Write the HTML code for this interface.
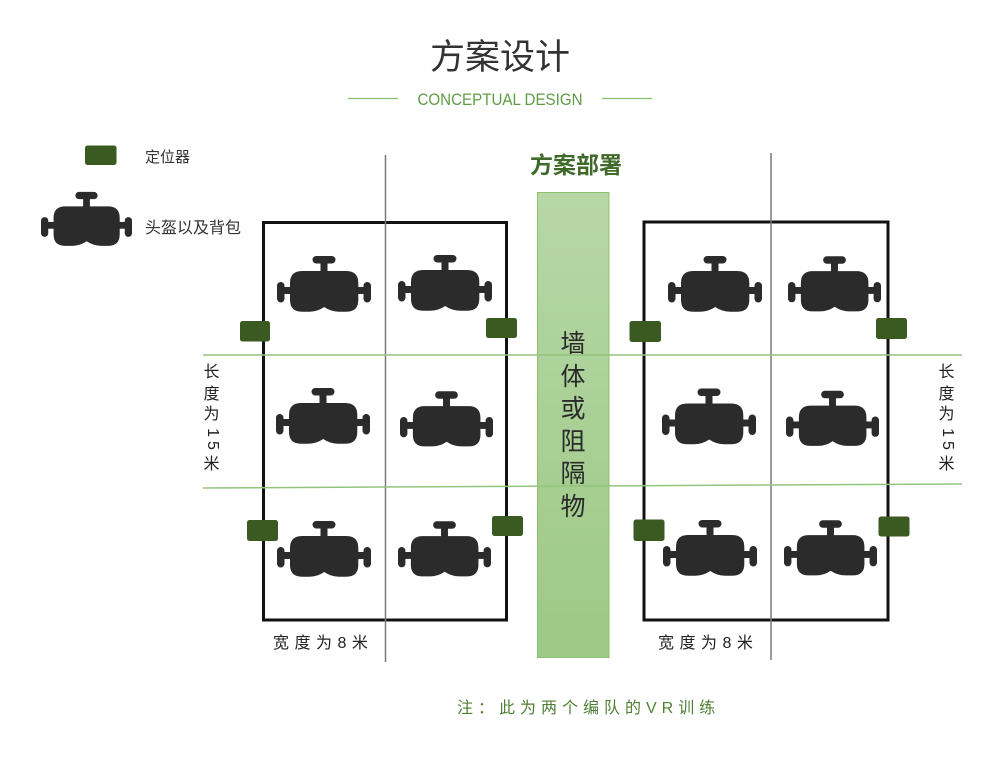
<!DOCTYPE html>
<html>
<head>
<meta charset="utf-8">
<style>
  html,body{margin:0;padding:0;background:#fff;}
  #root{position:relative;width:1000px;height:760px;overflow:hidden;background:#fff;}
  svg{position:absolute;left:0;top:0;}
  .t{position:absolute;font-family:"Liberation Sans","Noto Sans CJK SC",sans-serif;white-space:nowrap;}
  .vc{font-size:16px;line-height:16px;width:17px;text-align:center;color:#222;}
  .rot{font-size:16px;line-height:16px;width:26px;text-align:center;letter-spacing:4px;color:#222;transform:rotate(90deg);transform-origin:13px 8px;}
</style>
</head>
<body>
<div id="root">
<svg width="1000" height="760" viewBox="0 0 1000 760" xmlns="http://www.w3.org/2000/svg">
  <defs>
    <linearGradient id="wallg" x1="0" y1="0" x2="0" y2="1">
      <stop offset="0" stop-color="#b7d7a7"/>
      <stop offset="1" stop-color="#9cc985"/>
    </linearGradient>
    <symbol id="hs" viewBox="0 0 94 57">
      <g fill="#2b2b2b">
        <rect x="35.5" y="0" width="23" height="7.5" rx="3.75"/>
        <rect x="43.5" y="5" width="7" height="11"/>
        <path d="M25 15 H69.3 Q81.3 15 81.3 27 V44 Q81.3 55.7 69.3 55.7 H62 Q54 55.7 47.2 51 Q40.4 55.7 32.4 55.7 H25 Q13 55.7 13 44 V27 Q13 15 25 15 Z"/>
        <rect x="5" y="31" width="10" height="7"/>
        <rect x="79.5" y="31" width="10" height="7"/>
        <rect x="0" y="26" width="7.5" height="20.5" rx="3.75"/>
        <rect x="86.5" y="26" width="7.5" height="20.5" rx="3.75"/>
      </g>
    </symbol>
  </defs>

  <!-- header lines -->
  <line x1="348" y1="98.5" x2="398" y2="98.5" stroke="#8bbf6e" stroke-width="1.3"/>
  <line x1="602" y1="98.5" x2="652" y2="98.5" stroke="#8bbf6e" stroke-width="1.3"/>

  <!-- legend -->
  <rect x="85" y="145.5" width="31.5" height="19.5" rx="2.5" fill="#3a5a22"/>
  <use href="#hs" x="41" y="191" width="91" height="57" preserveAspectRatio="none"/>

  <!-- wall -->
  <rect x="537.5" y="192.5" width="71.5" height="465" fill="url(#wallg)" stroke="#8dc16f" stroke-width="1"/>

  <!-- boxes -->
  <rect x="263.5" y="222.5" width="243" height="397.5" fill="none" stroke="#111" stroke-width="3"/>
  <rect x="644" y="222" width="244" height="398" fill="none" stroke="#111" stroke-width="3"/>

  <!-- gray center lines -->
  <line x1="385.5" y1="155" x2="385.5" y2="662" stroke="#7a7a7a" stroke-width="1.5"/>
  <line x1="771" y1="153" x2="771" y2="660" stroke="#7a7a7a" stroke-width="1.5"/>

  <!-- icons left box -->
  <use href="#hs" x="277" y="256" width="94" height="57"/>
  <use href="#hs" x="398" y="255" width="94" height="57"/>
  <use href="#hs" x="276" y="388" width="94" height="57"/>
  <use href="#hs" x="400" y="391" width="93" height="57"/>
  <use href="#hs" x="277" y="521" width="94" height="57"/>
  <use href="#hs" x="398" y="521" width="93" height="57"/>

  <!-- icons right box -->
  <use href="#hs" x="668" y="256" width="94" height="57"/>
  <use href="#hs" x="788" y="256" width="93" height="57"/>
  <use href="#hs" x="662" y="388" width="94" height="58"/>
  <use href="#hs" x="786" y="390" width="93" height="58"/>
  <use href="#hs" x="663" y="520" width="94" height="57"/>
  <use href="#hs" x="784" y="520" width="93" height="57"/>

  <!-- locators -->
  <rect x="240" y="321" width="30" height="20.5" rx="2.5" fill="#3a5a22"/>
  <rect x="486" y="318" width="31" height="20" rx="2.5" fill="#3a5a22"/>
  <rect x="247" y="520" width="31" height="21" rx="2.5" fill="#3a5a22"/>
  <rect x="492" y="516" width="31" height="20" rx="2.5" fill="#3a5a22"/>
  <rect x="629.5" y="321" width="31.5" height="21" rx="2.5" fill="#3a5a22"/>
  <rect x="876" y="318" width="31" height="21" rx="2.5" fill="#3a5a22"/>
  <rect x="633.5" y="519.5" width="31" height="21.5" rx="2.5" fill="#3a5a22"/>
  <rect x="878.5" y="516.5" width="31" height="20" rx="2.5" fill="#3a5a22"/>
</svg>

<!-- title -->
<div class="t" style="left:0;top:40px;width:1000px;text-align:center;font-size:35px;line-height:35px;color:#333;">方案设计</div>
<div class="t" style="left:0;top:91px;width:1000px;text-align:center;font-size:17px;line-height:17px;color:#5f9b44;transform:scaleX(0.89);transform-origin:500px 0;">CONCEPTUAL DESIGN</div>

<!-- legend text -->
<div class="t" style="left:145px;top:149.5px;font-size:15px;line-height:15px;color:#333;">定位器</div>
<div class="t" style="left:145px;top:220.5px;font-size:16px;line-height:16px;color:#333;">头盔以及背包</div>

<!-- section heading -->
<div class="t" style="left:530px;top:154px;font-size:23px;line-height:23px;font-weight:bold;color:#3f6a2a;">方案部署</div>

<!-- wall text -->
<div class="t" style="left:537px;top:328px;width:72px;text-align:center;font-size:25px;line-height:32.5px;color:#2a2a2a;">墙<br>体<br>或<br>阻<br>隔<br>物</div>

<!-- vertical labels left -->
<div class="t vc" style="left:203px;top:365px;">长</div>
<div class="t vc" style="left:203px;top:387px;">度</div>
<div class="t vc" style="left:203px;top:407px;">为</div>
<div class="t rot" style="left:198.5px;top:433px;">15</div>
<div class="t vc" style="left:203px;top:457px;">米</div>

<!-- vertical labels right -->
<div class="t vc" style="left:938px;top:365px;">长</div>
<div class="t vc" style="left:938px;top:387px;">度</div>
<div class="t vc" style="left:938px;top:407px;">为</div>
<div class="t rot" style="left:933.5px;top:433px;">15</div>
<div class="t vc" style="left:938px;top:457px;">米</div>

<!-- bottom labels -->
<div class="t" style="left:273px;top:635.5px;font-size:16px;line-height:16px;letter-spacing:5.5px;color:#222;">宽度为8米</div>
<div class="t" style="left:658px;top:635.5px;font-size:16px;line-height:16px;letter-spacing:5.5px;color:#222;">宽度为8米</div>

<!-- note -->
<div class="t" style="left:457px;top:701px;font-size:16px;line-height:16px;letter-spacing:5px;color:#4f7f35;">注：此为两个编队的VR训练</div>

<!-- green horizontal lines on top -->
<svg width="1000" height="760" viewBox="0 0 1000 760" xmlns="http://www.w3.org/2000/svg" style="pointer-events:none;">
  <line x1="203" y1="355" x2="962" y2="355" stroke="#93c47d" stroke-width="1.5"/>
  <line x1="203" y1="488" x2="962" y2="484" stroke="#93c47d" stroke-width="1.5"/>
</svg>
</div>
</body>
</html>
